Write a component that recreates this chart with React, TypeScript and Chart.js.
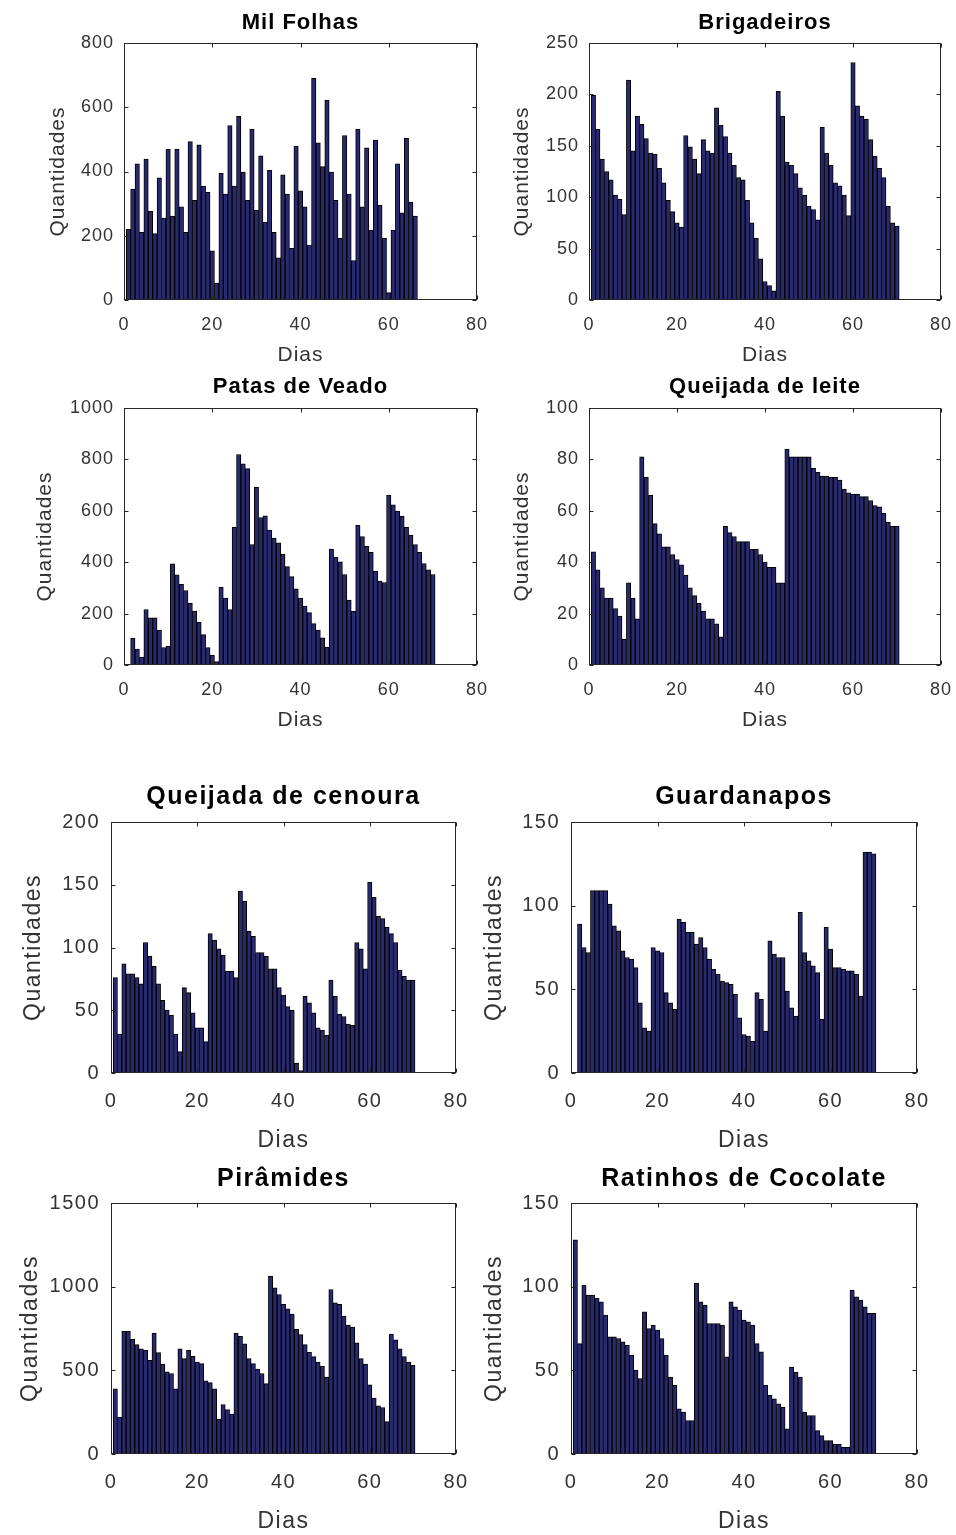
import React, { useEffect, useRef } from 'react';
import { Chart, registerables } from 'chart.js';

Chart.register(...registerables);

// ---------- data (one value per day, day = index + 1) ----------
const milFolhas = [220, 345, 424, 211, 439, 276, 207, 380, 255, 469, 261, 469, 290, 211, 493, 310, 483, 355, 335, 153, 53, 394, 330, 543, 355, 572, 398, 310, 532, 279, 449, 242, 404, 211, 131, 390, 330, 161, 479, 340, 290, 171, 690, 489, 415, 622, 398, 310, 192, 512, 330, 123, 532, 290, 474, 217, 498, 295, 192, 23, 217, 424, 271, 503, 305, 261];

const brigadeiros = [199, 166, 137, 125, 117, 102, 98, 83, 214, 145, 179, 171, 157, 143, 142, 128, 114, 97, 86, 75, 71, 160, 149, 137, 123, 156, 145, 143, 187, 170, 159, 143, 131, 119, 117, 97, 75, 60, 40, 18, 14, 9, 203, 179, 134, 131, 123, 109, 102, 91, 88, 78, 168, 143, 131, 114, 111, 102, 82, 231, 189, 179, 176, 156, 140, 128, 119, 91, 75, 72];

const patasDeVeado = [0, 105, 62, 31, 216, 184, 184, 135, 68, 74, 394, 351, 314, 290, 240, 210, 166, 118, 68, 38, 13, 303, 260, 216, 536, 819, 783, 764, 469, 691, 574, 580, 525, 494, 475, 431, 383, 344, 296, 260, 229, 204, 161, 136, 106, 69, 451, 419, 401, 352, 253, 209, 543, 500, 462, 438, 364, 327, 321, 660, 623, 599, 579, 536, 506, 469, 438, 395, 370, 352];

const queijadaLeite = [44, 37, 30, 26, 26, 22, 19, 10, 32, 26, 18, 81, 73, 66, 55, 51, 46, 46, 43, 41, 39, 35, 30, 27, 24, 21, 18, 18, 16, 11, 54, 51.5, 50, 48, 48, 48, 45, 45, 43, 40, 38, 38, 32, 32, 84, 81, 81, 81, 81, 81, 76.5, 75, 73.5, 73.5, 73, 73, 72, 68.5, 67, 66.5, 66.5, 65.5, 65.5, 64, 62, 61.5, 59, 55.5, 54, 54];

const queijadaCenoura = [76, 31, 87, 79, 79, 76, 71, 104, 93, 85, 71, 58, 50, 46, 31, 17, 68, 64, 48, 36, 36, 25, 111, 106, 99, 94, 81, 81, 76, 145, 137, 113, 109, 96, 96, 93, 83, 83, 68, 62, 53, 50, 8, 2, 61, 56, 48, 36, 34, 30, 74, 61, 47, 45, 39, 38, 104, 99, 83, 152, 140, 125, 123, 116, 111, 104, 82, 77, 74, 74];

const guardanapos = [0, 89, 75, 72, 109, 109, 109, 109, 101, 88, 85, 73, 69, 68, 63, 42, 27, 25, 75, 73, 72, 48, 42, 38, 92, 90, 84, 84, 77, 81, 75, 68, 62, 59, 55, 54, 53, 47, 33, 23, 22, 19, 48, 44, 25, 79, 71, 69, 69, 49, 39, 34, 96, 72, 67, 64, 60, 32, 87, 74, 63, 63, 62, 61, 61, 59, 46, 132, 132, 131];

const piramides = [389, 219, 733, 733, 685, 654, 628, 620, 560, 723, 606, 538, 491, 481, 389, 628, 570, 620, 584, 550, 540, 437, 427, 389, 207, 296, 266, 238, 723, 703, 658, 570, 540, 507, 481, 421, 1063, 993, 952, 894, 868, 836, 745, 713, 654, 608, 582, 550, 524, 459, 983, 904, 894, 824, 771, 759, 665, 570, 538, 413, 334, 288, 278, 193, 717, 683, 628, 582, 550, 530];

const ratinhos = [128, 66, 101, 95, 95, 93, 91, 83, 70, 70, 69, 67, 65, 59, 50, 45, 85, 75, 77, 74, 69, 59, 46, 41, 27, 25, 20, 20, 102, 91, 89, 78, 78, 78, 77, 58, 91, 88, 86, 80, 79, 77, 66, 61, 41, 35, 33, 30, 28, 15, 52, 49, 46, 25, 23, 23, 14, 11, 8, 8, 6, 6, 4, 4, 98, 94, 92, 88, 84, 84];

const xAxisMin = 0;
const xAxisMax = 80;
const xAxisStep = 20;
const xLabel = 'Dias';
const yLabel = 'Quantidades';

// ---------- styles ----------
const FONT = "'Liberation Sans', Arial, Helvetica, sans-serif";
const TEXT_COLOR = '#333333';
const FRAME_COLOR = '#262626';
const BAR_FILL = '#29296f';
const BAR_EDGE = '#000000';

type Group = { tick: number; label: number; title: number; spacing: number; padX: number; padY: number };
const groups: Record<string, Group> = {
  top: { tick: 18, label: 21, title: 22, spacing: 1, padX: 16.5, padY: 10 },
  bottom: { tick: 20, label: 23, title: 25, spacing: 1.5, padX: 18.5, padY: 11 },
};

type PanelDef = {
  title: string;
  values: number[];
  yMax: number;
  yStep: number;
  area: [number, number, number, number]; // left, top, right, bottom of plot box on page
  titleY: number;
  ylabelX: number;
  xlabelY: number;
  group: 'top' | 'bottom';
};

const panels: PanelDef[] = [
  { title: 'Mil Folhas', values: milFolhas, yMax: 800, yStep: 200, area: [124, 43, 477, 300], titleY: 23, ylabelX: 58, xlabelY: 355, group: 'top' },
  { title: 'Brigadeiros', values: brigadeiros, yMax: 250, yStep: 50, area: [589, 43, 941, 300], titleY: 23, ylabelX: 522, xlabelY: 355, group: 'top' },
  { title: 'Patas de Veado', values: patasDeVeado, yMax: 1000, yStep: 200, area: [124, 408, 477, 665], titleY: 387, ylabelX: 45, xlabelY: 720, group: 'top' },
  { title: 'Queijada de leite', values: queijadaLeite, yMax: 100, yStep: 20, area: [589, 408, 941, 665], titleY: 387, ylabelX: 522, xlabelY: 720, group: 'top' },
  { title: 'Queijada de cenoura', values: queijadaCenoura, yMax: 200, yStep: 50, area: [111, 822, 456, 1073], titleY: 797, ylabelX: 33, xlabelY: 1140, group: 'bottom' },
  { title: 'Guardanapos', values: guardanapos, yMax: 150, yStep: 50, area: [571, 822, 917, 1073], titleY: 797, ylabelX: 494, xlabelY: 1140, group: 'bottom' },
  { title: 'Pirâmides', values: piramides, yMax: 1500, yStep: 500, area: [111, 1203, 456, 1454], titleY: 1179, ylabelX: 30, xlabelY: 1521, group: 'bottom' },
  { title: 'Ratinhos de Cocolate', values: ratinhos, yMax: 150, yStep: 50, area: [571, 1203, 917, 1454], titleY: 1179, ylabelX: 494, xlabelY: 1521, group: 'bottom' },
];

const spacingPlugin = (sp: number) => {
  const set = (chart: any) => {
    try { (chart.ctx as any).letterSpacing = sp + 'px'; } catch (e) { /* ignore */ }
  };
  return { id: 'letterSpacing', afterInit: set, beforeUpdate: set, beforeLayout: set, beforeDraw: set };
};

const framePlugin = {
  id: 'matlabFrame',
  afterDatasetsDraw(chart: any) {
    const { ctx, chartArea: a, scales } = chart;
    const L = Math.round(a.left) + 0.5;
    const R = Math.round(a.right) - 0.5;
    const T = Math.round(a.top) + 0.5;
    const B = Math.round(a.bottom) - 0.5;
    const len = 4;
    ctx.save();
    ctx.strokeStyle = FRAME_COLOR;
    ctx.lineWidth = 1;
    ctx.beginPath();
    scales.x.ticks.forEach((t: any) => {
      const px = Math.round(scales.x.getPixelForValue(t.value)) + 0.5;
      ctx.moveTo(px, B); ctx.lineTo(px, B - len);
      ctx.moveTo(px, T); ctx.lineTo(px, T + len);
    });
    scales.y.ticks.forEach((t: any) => {
      const py = Math.round(scales.y.getPixelForValue(t.value)) + 0.5;
      ctx.moveTo(L, py); ctx.lineTo(L + len, py);
      ctx.moveTo(R, py); ctx.lineTo(R - len, py);
    });
    ctx.stroke();
    ctx.strokeRect(L, T, R - L, B - T);
    ctx.restore();
  },
};

function Panel({ p }: { p: PanelDef }) {
  const ref = useRef<HTMLCanvasElement>(null);
  const g = groups[p.group];
  const [l, t, r, b] = p.area;
  const canvasLeft = Math.round(p.ylabelX - g.label / 2 - 4);
  const W = l - canvasLeft;
  const canvasTop = Math.round(p.titleY - g.title / 2 - 4);
  const T = t - canvasTop;
  const H = Math.round(p.xlabelY - b + g.label / 2 + 4);
  const width = W * 2 + (r - l);
  const height = T + (b - t) + H;

  useEffect(() => {
    if (!ref.current) return;
    const chart = new Chart(ref.current, {
      type: 'bar',
      data: {
        datasets: [
          {
            data: p.values.map((v, i) => ({ x: i + 1, y: v })),
            backgroundColor: BAR_FILL,
            borderColor: BAR_EDGE,
            borderWidth: 1,
            barPercentage: 1,
            categoryPercentage: 1,
            xAxisID: 'x',
            yAxisID: 'y',
          } as any,
        ],
      },
      options: {
        responsive: false,
        animation: false,
        devicePixelRatio: 1,
        events: [],
        layout: { padding: 0 },
        plugins: {
          legend: { display: false },
          tooltip: { enabled: false },
          title: {
            display: true,
            text: p.title,
            color: '#000',
            font: { family: FONT, size: g.title, weight: 'bold', lineHeight: 1 },
            padding: { top: 4, bottom: T - 4 - g.title },
          },
        },
        scales: {
          x: {
            type: 'linear',
            min: xAxisMin,
            max: xAxisMax,
            offset: false,
            grid: { display: false, drawTicks: false },
            border: { display: false },
            ticks: {
              stepSize: xAxisStep,
              padding: g.padX,
              color: TEXT_COLOR,
              autoSkip: false,
              maxRotation: 0,
              font: { family: FONT, size: g.tick, lineHeight: 1 },
              callback: (v: any) => String(v),
            },
            title: {
              display: true,
              text: xLabel,
              color: TEXT_COLOR,
              font: { family: FONT, size: g.label, lineHeight: 1 },
              padding: { top: 0, bottom: 4 },
            },
            afterFit: (s: any) => { s.height = H; },
          },
          y: {
            type: 'linear',
            position: 'left',
            min: 0,
            max: p.yMax,
            grid: { display: false, drawTicks: false },
            border: { display: false },
            ticks: {
              stepSize: p.yStep,
              padding: g.padY,
              color: TEXT_COLOR,
              font: { family: FONT, size: g.tick, lineHeight: 1 },
              callback: (v: any) => String(v),
            },
            title: {
              display: true,
              text: yLabel,
              color: TEXT_COLOR,
              font: { family: FONT, size: g.label, lineHeight: 1 },
              padding: { top: 4, bottom: 0 },
            },
            afterFit: (s: any) => { s.width = W; },
          },
          // empty right-hand spacer so the title is centred over the plot box
          yRight: {
            type: 'linear',
            position: 'right',
            min: 0,
            max: 1,
            grid: { display: false, drawTicks: false },
            border: { display: false },
            ticks: { display: false },
            title: { display: false },
            afterFit: (s: any) => { s.width = W; },
          },
        },
      } as any,
      plugins: [spacingPlugin(g.spacing), framePlugin],
    });
    return () => chart.destroy();
  }, []);

  return (
    <canvas
      ref={ref}
      width={width}
      height={height}
      style={{ position: 'absolute', left: canvasLeft, top: canvasTop, width, height }}
    />
  );
}

export default function App() {
  return (
    <div
      style={{
        position: 'absolute',
        left: 0,
        top: 0,
        width: 956,
        height: 1535,
        overflow: 'hidden',
        background: '#ffffff',
      }}
    >
      {panels.map((p) => (
        <Panel key={p.title} p={p} />
      ))}
    </div>
  );
}
